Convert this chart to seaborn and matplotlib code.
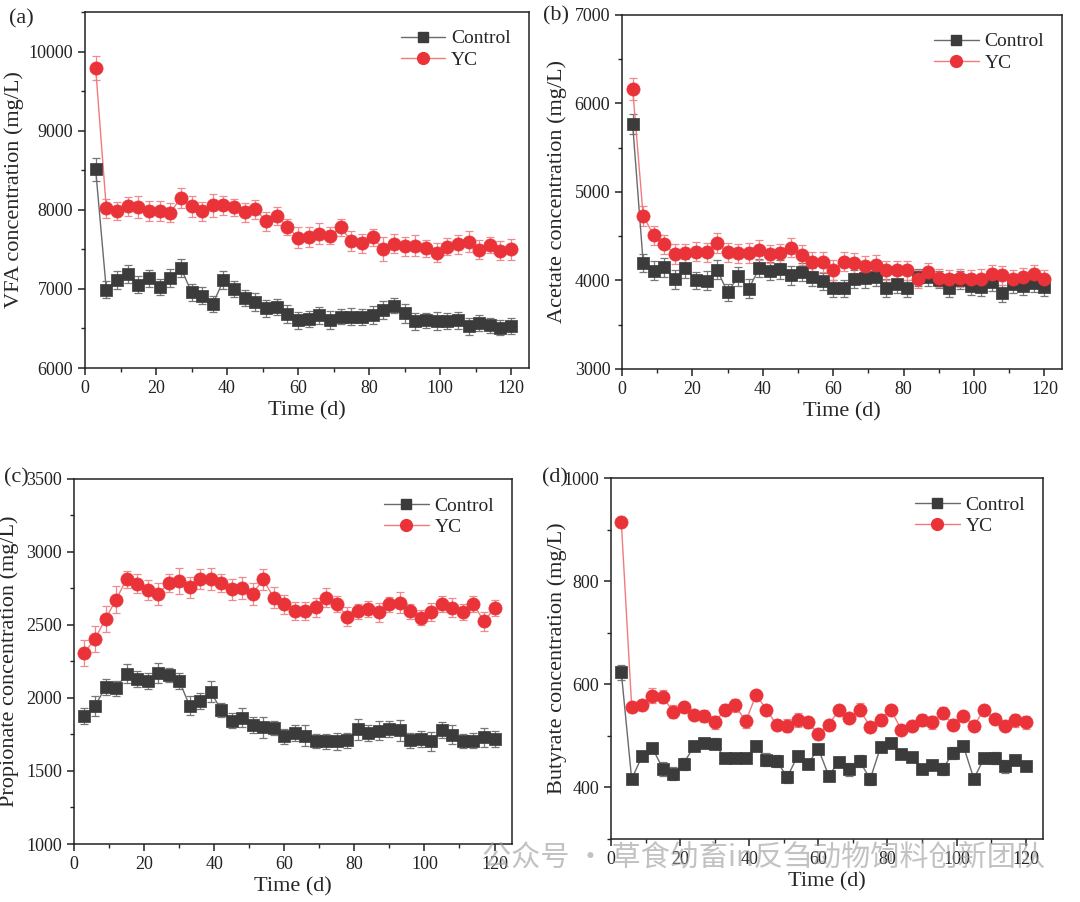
import numpy as np
import pandas as pd
import matplotlib
matplotlib.use("Agg")
import matplotlib.pyplot as plt
from matplotlib.lines import Line2D
from matplotlib.ticker import MultipleLocator, FixedLocator
import seaborn as sns

# ---------------- data ----------------
days = [3, 6, 9, 12, 15, 18, 21, 24, 27, 30, 33, 36, 39, 42, 45, 48, 51, 54, 57, 60,
        63, 66, 69, 72, 75, 78, 81, 84, 87, 90, 93, 96, 99, 102, 105, 108, 111, 114, 117, 120]

vfa_control = [8510, 6990, 7110, 7185, 7055, 7134, 7025, 7139, 7265, 6958, 6916, 6811, 7109, 7000,
               6882, 6832, 6756, 6773, 6681, 6601, 6618, 6664, 6605, 6651, 6651, 6643, 6668, 6731,
               6790, 6693, 6588, 6601, 6592, 6592, 6601, 6525, 6567, 6538, 6508, 6529]
vfa_yc = [9794, 8017, 7983, 8042, 8034, 7983, 7983, 7962, 8151, 8042, 7983, 8055, 8055, 8029,
          7966, 8004, 7857, 7924, 7782, 7647, 7655, 7697, 7672, 7777, 7605, 7580, 7651, 7504,
          7571, 7538, 7546, 7513, 7454, 7534, 7567, 7597, 7496, 7555, 7483, 7500]
vfa_control_err = [140, 110, 110, 115, 105, 105, 100, 110, 110, 105, 110, 100, 115, 105,
                   100, 115, 105, 100, 110, 105, 105, 110, 110, 100, 110, 100, 110, 110,
                   100, 120, 105, 100, 115, 100, 105, 105, 100, 100, 95, 100]
vfa_yc_err = [155, 120, 110, 125, 135, 130, 125, 120, 130, 130, 120, 140, 125, 110,
              120, 120, 120, 110, 100, 130, 130, 130, 110, 110, 130, 120, 110, 150,
              120, 120, 130, 110, 120, 110, 120, 130, 120, 100, 120, 130]

ace_control = [5766, 4196, 4109, 4147, 4011, 4136, 4000, 3996, 4121, 3864, 4045, 3906, 4140, 4106,
               4125, 4057, 4094, 4038, 3989, 3909, 3909, 4015, 4023, 4034, 3913, 3958, 3909, 4034,
               4040, 4010, 3917, 4004, 3940, 3921, 3977, 3853, 3955, 3940, 3974, 3928]
ace_yc = [6166, 4728, 4509, 4408, 4298, 4306, 4325, 4317, 4423, 4317, 4306, 4309, 4343, 4298,
          4306, 4370, 4287, 4211, 4208, 4117, 4211, 4196, 4166, 4177, 4113, 4113, 4113, 4019,
          4094, 4030, 4015, 4030, 4011, 4019, 4072, 4057, 4015, 4042, 4068, 4011]
ace_control_err = [110, 105, 105, 105, 105, 105, 100, 105, 110, 100, 105, 105, 105, 105,
                   105, 105, 105, 100, 100, 100, 100, 100, 105, 100, 100, 100, 100, 100,
                   100, 100, 100, 100, 105, 100, 100, 100, 100, 100, 100, 100]
ace_yc_err = [125, 110, 110, 110, 110, 105, 110, 110, 110, 105, 105, 110, 110, 105,
              105, 110, 110, 110, 110, 110, 110, 110, 105, 105, 105, 105, 110, 100,
              100, 100, 100, 100, 110, 110, 100, 110, 105, 100, 105, 110]

pro_control = [1879, 1945, 2073, 2066, 2167, 2130, 2117, 2171, 2158, 2119, 1947, 1982, 2043, 1918,
               1845, 1863, 1813, 1799, 1794, 1737, 1760, 1742, 1705, 1703, 1703, 1710, 1785, 1760,
               1774, 1787, 1778, 1710, 1721, 1705, 1781, 1749, 1705, 1707, 1730, 1717]
pro_yc = [2310, 2406, 2541, 2674, 2812, 2784, 2741, 2711, 2787, 2803, 2757, 2814, 2812, 2787,
          2743, 2754, 2715, 2812, 2687, 2642, 2596, 2596, 2623, 2685, 2644, 2557, 2594, 2610,
          2587, 2642, 2653, 2594, 2550, 2589, 2642, 2619, 2589, 2642, 2525, 2614]
pro_control_err = [55, 70, 55, 50, 65, 55, 55, 70, 50, 55, 65, 55, 70, 50,
                   50, 65, 55, 70, 50, 50, 55, 70, 50, 50, 60, 50, 70, 55,
                   65, 55, 70, 50, 55, 65, 55, 65, 50, 50, 65, 55]
pro_yc_err = [90, 90, 90, 95, 60, 65, 70, 75, 60, 90, 75, 70, 75, 60,
              70, 75, 75, 70, 70, 65, 60, 60, 65, 65, 55, 65, 50, 55,
              65, 50, 70, 50, 50, 60, 55, 65, 55, 55, 65, 55]

but_control = [623, 416, 461, 477, 436, 427, 446, 480, 487, 485, 457, 458, 458, 480,
               454, 451, 420, 461, 446, 475, 423, 450, 435, 451, 416, 478, 486, 464,
               459, 436, 444, 436, 467, 480, 417, 457, 457, 441, 454, 442]
but_yc = [914, 556, 560, 578, 576, 547, 556, 540, 538, 526, 551, 559, 528, 580,
          551, 521, 520, 531, 526, 504, 522, 550, 535, 551, 518, 531, 551, 512,
          520, 531, 526, 544, 522, 539, 520, 551, 532, 520, 530, 526]
but_control_err = [14, 8, 8, 10, 13, 12, 12, 10, 9, 10, 7, 7, 8, 10,
                   12, 12, 12, 9, 7, 9, 8, 9, 12, 12, 12, 10, 7, 6,
                   6, 9, 7, 12, 12, 10, 7, 9, 12, 12, 9, 8]
but_yc_err = [8, 10, 10, 14, 13, 12, 10, 8, 12, 12, 10, 12, 12, 8,
              8, 10, 13, 13, 11, 10, 8, 8, 8, 12, 8, 12, 9, 9,
              9, 12, 12, 12, 10, 8, 8, 8, 9, 8, 13, 12]

groups = ["Control", "YC"]
panel_labels = ["(a)", "(b)", "(c)", "(d)"]
ylabels = ["VFA concentration (mg/L)", "Acetate concentration (mg/L)",
           "Propionate concentration (mg/L)", "Butyrate concentration (mg/L)"]
xlabel = "Time (d)"
watermark = "公众号 · 草食幼畜in反刍动物饲料创新团队"

series = [
    (vfa_control, vfa_control_err, vfa_yc, vfa_yc_err),
    (ace_control, ace_control_err, ace_yc, ace_yc_err),
    (pro_control, pro_control_err, pro_yc, pro_yc_err),
    (but_control, but_control_err, but_yc, but_yc_err),
]

# ---------------- style ----------------
sns.set_theme(style="ticks")
plt.rcParams["font.family"] = ["Liberation Serif", "Noto Sans CJK SC"]
plt.rcParams["axes.linewidth"] = 1.1

marker_col = {"Control": "#3b3b3b", "YC": "#ea3339"}
line_col = {"Control": "#6a6a6a", "YC": "#f07a7e"}
err_col = {"Control": "#777777", "YC": "#f08a8e"}
markers = {"Control": "s", "YC": "o"}

fig = plt.figure(figsize=(10.8, 9.02), dpi=100)
positions = [
    [0.0787, 0.592, 0.411, 0.3947],
    [0.576, 0.591, 0.4074, 0.3925],
    [0.0685, 0.0643, 0.4056, 0.4047],
    [0.5657, 0.0698, 0.400, 0.4002],
]
ylims = [(6000, 10500), (3000, 7000), (1000, 3500), (300, 1000)]
ymajor = [[6000, 7000, 8000, 9000, 10000], [3000, 4000, 5000, 6000, 7000],
          [1000, 1500, 2000, 2500, 3000, 3500], [400, 600, 800, 1000]]
yminor = [500, 500, 250, None]
label_pos = [(0.008, 0.979), (0.503, 0.982), (0.004, 0.470), (0.502, 0.470)]
ylabel_x = [0.022, 0.525, 0.0175, 0.525]

for i, (c, ce, y, ye) in enumerate(series):
    pos = positions[i]
    ax = fig.add_axes(pos)
    df = pd.DataFrame({
        "day": days + days,
        "value": c + y,
        "err": ce + ye,
        "group": ["Control"] * len(days) + ["YC"] * len(days),
    })
    for g in groups:
        sub = df[df["group"] == g]
        ax.errorbar(sub["day"], sub["value"], yerr=sub["err"], fmt="none",
                    ecolor=err_col[g], elinewidth=0.9, capsize=3.2, capthick=0.9, zorder=2)
    sns.lineplot(data=df, x="day", y="value", hue="group", palette=line_col,
                 linewidth=1.0, legend=False, ax=ax, zorder=3, sort=False,
                 estimator=None)
    for g in groups:
        sub = df[df["group"] == g]
        sns.scatterplot(data=sub, x="day", y="value", color=marker_col[g],
                        marker=markers[g], s=75 if g == "Control" else 90,
                        edgecolor=marker_col[g], linewidth=0.5, legend=False,
                        ax=ax, zorder=4)
    ax.set_xlim(0, 125)
    ax.set_ylim(*ylims[i])
    ax.xaxis.set_major_locator(FixedLocator([0, 20, 40, 60, 80, 100, 120]))
    ax.xaxis.set_minor_locator(MultipleLocator(10))
    ax.yaxis.set_major_locator(FixedLocator(ymajor[i]))
    if yminor[i] is not None:
        ax.yaxis.set_minor_locator(MultipleLocator(yminor[i]))
    else:
        ax.yaxis.set_minor_locator(FixedLocator([300, 500, 700, 900]))
    ax.tick_params(axis="both", which="major", direction="out", length=5, width=1.1,
                   labelsize=13, colors="#222222", top=False, right=False)
    ax.tick_params(axis="both", which="minor", direction="out", length=3, width=1.0,
                   top=False, right=False)
    for s in ax.spines.values():
        s.set_visible(True)
        s.set_color("#222222")
    ax.set_xlabel(xlabel, fontsize=16, labelpad=3)
    ax.set_ylabel(ylabels[i], fontsize=16)
    ax.yaxis.set_label_coords((ylabel_x[i] - pos[0]) / pos[2], 0.5)

    handles = [Line2D([], [], color=line_col[g], lw=1.0, marker=markers[g],
                      markerfacecolor=marker_col[g], markeredgecolor=marker_col[g],
                      markersize=7.5 if g == "Control" else 8.5) for g in groups]
    ax.legend(handles, groups, loc="upper right", bbox_to_anchor=(0.99, 0.988),
              frameon=False, fontsize=14, handlelength=2.3, handletextpad=0.3,
              labelspacing=0.2, borderaxespad=0.3)
    fig.text(label_pos[i][0], label_pos[i][1], panel_labels[i], fontsize=16,
             ha="left", va="center")

fig.text(0.968, 0.049, watermark, fontsize=21, color="#9a9a9a", alpha=0.6,
         ha="right", va="center", family=["Noto Sans CJK SC", "DejaVu Sans"])

fig.savefig("out.png", dpi=100, facecolor="white")
